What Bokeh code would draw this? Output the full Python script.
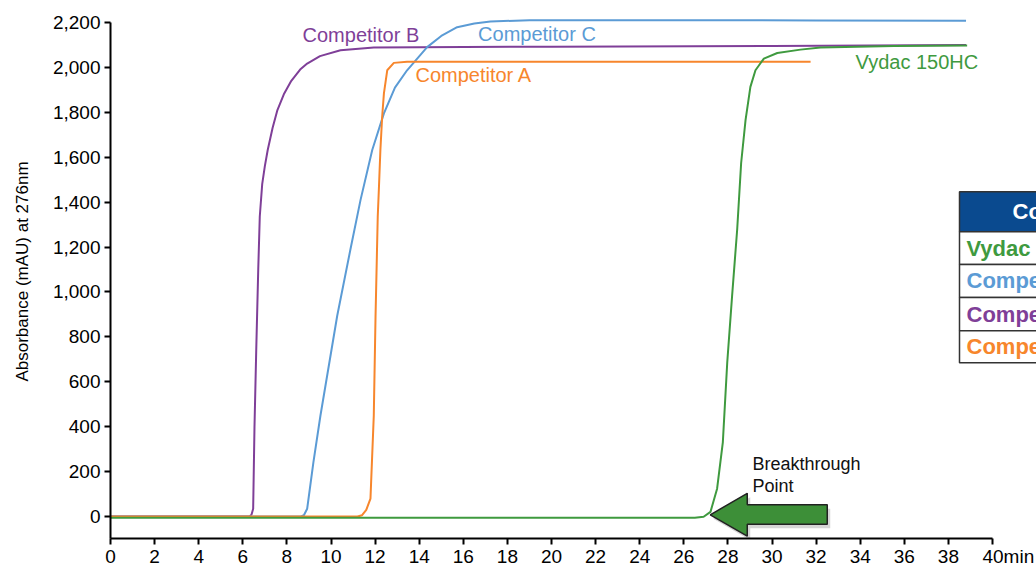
from bokeh.plotting import figure
from bokeh.models import FixedTicker, NumeralTickFormatter, Range1d
from bokeh.core.properties import value
from bokeh.embed import file_html
from bokeh.resources import INLINE

# ---------------- data ----------------
x_ticks = list(range(0, 41, 2))
y_ticks = list(range(0, 2201, 200))
x_unit = "min"

series_names = ["Competitor B", "Competitor C", "Competitor A", "Vydac 150HC"]

comp_b_x = [0, 6.3, 6.4, 6.47, 6.53, 6.61, 6.7, 6.77, 6.88, 7.0, 7.13, 7.35, 7.57,
            7.86, 8.2, 8.6, 8.92, 9.5, 10.43, 11.94, 14, 20, 30, 38.8]
comp_b_y = [0, 0, 10, 35, 400, 745, 1100, 1336, 1480, 1560, 1632, 1730, 1810,
            1880, 1940, 1990, 2017, 2050, 2076, 2088, 2090, 2092, 2095, 2100]

comp_c_x = [0, 8.6, 8.77, 8.92, 9.2, 9.52, 10.28, 10.88, 11.34, 11.87, 12.4, 12.9,
            13.45, 14.36, 15.0, 15.72, 16.5, 17.23, 19, 25, 32, 38.8]
comp_c_y = [0, 0, 6, 35, 240, 449, 893, 1189, 1410, 1632, 1795, 1910,
            1987, 2090, 2140, 2179, 2195, 2204, 2210, 2210, 2209, 2207]

comp_a_x = [0, 11.2, 11.41, 11.6, 11.79, 11.94, 12.02, 12.12, 12.17, 12.24, 12.32,
            12.4, 12.55, 12.85, 13.45, 20, 31.75]
comp_a_y = [0, 0, 6, 30, 80, 449, 893, 1336, 1455, 1632, 1780,
            1884, 1987, 2020, 2025, 2025, 2025]

vydac_x = [0, 26.5, 26.9, 27.21, 27.51, 27.77, 27.97, 28.19, 28.42, 28.6, 28.8,
           29.02, 29.25, 29.63, 30.24, 31.29, 32.2, 35.53, 38.85]
vydac_y = [-5, -5, -1, 21, 124, 330, 686, 982, 1277, 1573, 1765,
           1913, 1987, 2039, 2064, 2079, 2088, 2095, 2097]

# curve label positions (data units, vertical centre of the text)
label_x = [8.71, 16.67, 13.83, 33.79]
label_y = [2146, 2149, 1968, 2023]

table_header = "Column"
table_rows = ["Vydac 150HC", "Competitor C", "Competitor B", "Competitor A"]

annotation_text = ["Breakthrough", "Point"]
breakthrough_point = (27.2, 8)

PURPLE = "#7f3f98"
BLUE = "#5b9bd5"
ORANGE = "#f7862c"
GREEN = "#3f9a3f"
series_colors = [PURPLE, BLUE, ORANGE, GREEN]
row_colors = [GREEN, BLUE, PURPLE, ORANGE]

# ---------------- layout ----------------
W, H = 1036, 569
LEFT, TOP, BOTTOM = 110, 4, 29
frame_w = W - LEFT
frame_h = H - TOP - BOTTOM
XS = 22.05         # px per minute
YS = 0.22545       # px per mAU
ZERO_PY = 518      # canvas y of 0 mAU
x_end = frame_w / XS
y_end = (ZERO_PY - TOP) / YS
y_start = y_end - frame_h / YS


def px2x(px):
    return (px - LEFT) / XS


def py2y(py):
    return (ZERO_PY - py) / YS


p = figure(width=W, height=H, x_range=Range1d(0, x_end), y_range=Range1d(y_start, y_end),
           output_backend="svg", toolbar_location=None,
           min_border_left=LEFT, min_border_right=0, min_border_top=TOP,
           min_border_bottom=BOTTOM)
p.outline_line_color = None
p.xgrid.grid_line_color = None
p.ygrid.grid_line_color = None
p.background_fill_color = "white"
p.border_fill_color = "white"

p.xaxis.ticker = FixedTicker(ticks=x_ticks)
p.yaxis.ticker = FixedTicker(ticks=y_ticks)
p.yaxis.formatter = NumeralTickFormatter(format="0,0")
# the unit follows the last tick label ("40min"); NBSPs keep "40" centred on its tick
p.xaxis.major_label_overrides = {x_ticks[-1]: "\u00a0" * 6 + str(x_ticks[-1]) + x_unit}
p.xaxis.bounds = (0, 40)
p.yaxis.bounds = (y_start, 2200)
for ax in (p.xaxis, p.yaxis):
    ax.axis_line_width = 2
    ax.axis_line_color = "black"
    ax.major_tick_line_width = 2
    ax.major_tick_line_color = "black"
    ax.major_tick_out = 6
    ax.major_tick_in = 0
    ax.minor_tick_line_color = None
    ax.major_label_text_font = "Liberation Sans"
    ax.major_label_text_font_size = "19px"
    ax.major_label_text_color = "black"
p.xaxis.major_label_standoff = 1
p.yaxis.major_label_standoff = 4
p.yaxis.axis_label = "Absorbance (mAU) at 276nm"
p.yaxis.axis_label_text_font = "Liberation Sans"
p.yaxis.axis_label_text_font_size = "17px"
p.yaxis.axis_label_text_font_style = "normal"
p.yaxis.axis_label_text_color = "black"
p.yaxis.axis_label_standoff = 18

# ---------------- curves ----------------
all_x = [comp_b_x, comp_c_x, comp_a_x, vydac_x]
all_y = [comp_b_y, comp_c_y, comp_a_y, vydac_y]
for xs, ys, c in zip(all_x, all_y, series_colors):
    p.line(xs, ys, line_color=c, line_width=2)

p.text(x=label_x, y=label_y, text=series_names, text_color=series_colors,
       text_font=value("Liberation Sans"), text_font_size="20px",
       text_baseline="middle", text_align="left")

# ---------------- breakthrough arrow ----------------
tx, ty = breakthrough_point
arrow_px = [(0, 0), (37, -21.5), (37, -10), (117, -10), (117, 9.5), (37, 9.5), (37, 21.5)]
shadow_dx, shadow_dy = 3, 4
p.patch([tx + (dx + shadow_dx) / XS for dx, dy in arrow_px],
        [ty - (dy + shadow_dy) / YS for dx, dy in arrow_px],
        fill_color="#888888", fill_alpha=0.35, line_color=None)
p.patch([tx + dx / XS for dx, dy in arrow_px],
        [ty - dy / YS for dx, dy in arrow_px],
        fill_color="#3d8f38", line_color="#222222", line_width=1.5)

p.text(x=[px2x(752), px2x(752)], y=[py2y(465), py2y(487)], text=annotation_text,
       text_color="#111111", text_font=value("Liberation Sans"), text_font_size="18px",
       text_baseline="middle", text_align="left")

# ---------------- table (cut off at the right edge, as in the original) ----------------
t_left = px2x(959)
t_right = x_end + 2
edges_py = [192, 232, 265, 298, 331.5, 363.5]
p.quad(left=[t_left], right=[t_right], top=[py2y(edges_py[0])], bottom=[py2y(edges_py[1])],
       fill_color="#0a4a8f", line_color="#333333", line_width=1.5)
p.quad(left=[t_left] * 4, right=[t_right] * 4,
       top=[py2y(v) for v in edges_py[1:5]], bottom=[py2y(v) for v in edges_py[2:6]],
       fill_color="white", line_color="#333333", line_width=1.5)
p.text(x=[px2x(1012)], y=[py2y((edges_py[0] + edges_py[1]) / 2)], text=[table_header],
       text_color="white", text_font=value("Liberation Sans"), text_font_style="bold",
       text_font_size="22px", text_baseline="middle", text_align="left")
p.text(x=[px2x(966)] * 4, y=[py2y((a + b) / 2) for a, b in zip(edges_py[1:5], edges_py[2:6])],
       text=table_rows, text_color=row_colors, text_font=value("Liberation Sans"),
       text_font_style="bold", text_font_size="22px", text_baseline="middle",
       text_align="left")

open("out.html", "w").write(file_html(p, INLINE))
